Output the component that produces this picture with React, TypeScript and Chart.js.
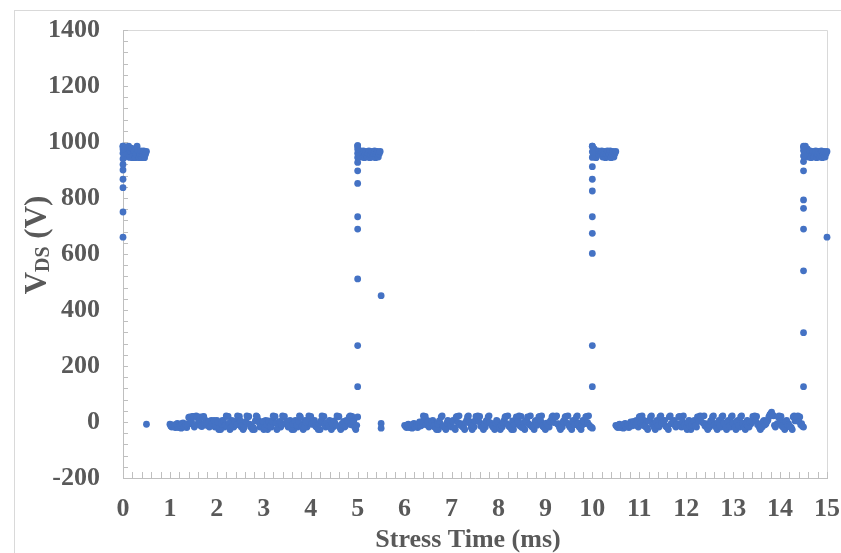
import React, { useEffect, useRef } from "react";
import { Chart, registerables } from "chart.js";
Chart.register(...registerables);

// ---------- data ----------
// Off-state (low) samples, volts. Main samples LOW_DT ms apart starting at lowNStart,
// in-between samples (lowNMid) taken half a step later.
const LOW_DT = 0.04;
const low1Start = 1.0;
const low1 = [
  -8, -18, -12, -20, -5, -15, -22, -3, -12, -20,
  16, -6, 20, -18, 22, -5, 18, -16, 20, 6,
  -6, -18, 6, -6, -18, 6, -27, -27, 6, -18,
  22, 20, -27, 6, -18, -6, 22, 20, -18, -27,
  -6, 22, 20, -18, -27, -27, 22, 6, -18, -6,
  -27, 6, -27, -6, -18, 22, 20, -27, -6, -18,
  22, 20, -6, -18, 6, -27, -27, 6, -18, 22,
  -6, -27, 6, -18, 22, 20, -6, 6, -18, -27,
  -27, 22, 20, -18, -6, 6, -27, -18, -6, 22,
  20, -27, -6, -18, 6, -6, 22, 20, 6, -27,
  18,
];
const low1Mid = [
  -15, -10, -18, -8, -20, -12, -5, -18, -10, -6,
  18, 2, 20, -12, 16, 4, -14, 18, -4, -12,
  2, -14, -4, 6, -12, -2, -20, -8, 4, -12,
  20, -4, -20, -14, 2, -10, 18, 4, -12, -20,
  2, 18, -8, -14, -20, 4, 18, -2, -12, 2,
  -20, -10, 4, -14, 2, 18, -4, -20, 2, -12,
  18, -4, 2, -14, -20, -8, 4, -12, 2, 18,
  -14, -20, -2, 4, 18, -8, 2, -14, -20, -6,
  4, 18, -10, -2, -14, -20, -6, 4, -12, 18,
  -20, -8, 2, -14, 4, 18, -10, 2, -20, -12,
];
const low2Start = 6.0;
const low2 = [
  -12, -20, -8, -18, -22, -5, -15, -20, 0, -12,
  22, 20, 6, -18, -6, 6, -18, -27, -27, -6,
  22, -18, -27, 6, -6, -18, 6, -27, 20, 22,
  -6, -18, -27, 6, 22, -6, -27, -18, 20, 22,
  20, -6, -27, -18, 6, 22, -6, -18, -27, 6,
  -6, -27, -18, 6, 20, 22, -18, -27, -27, 6,
  -6, 22, 20, -18, -27, 6, -6, 22, -18, -27,
  6, -6, 20, 22, -18, -27, -6, -18, 6, 22,
  20, 22, -6, -27, -18, 6, 20, 22, -18, -27,
  6, -6, 22, -18, -27, 6, -6, 20, 22, -18,
  -22,
];
const low2Mid = [
  -16, -10, -20, -12, -8, -18, -10, -6, -14, 2,
  18, -10, 2, -12, -4, -14, -20, -8, 4, 18,
  -14, -20, -4, 2, -12, 4, -20, 18, -2, -10,
  -14, -20, -2, 18, 2, -20, -12, 4, 18, 2,
  -14, -20, -8, 4, 18, -2, -12, -20, -4, 2,
  -20, -12, -2, 18, -6, -14, -20, 4, -10, 18,
  2, -14, -20, -2, 4, 18, -10, -14, -20, 2,
  -12, 18, 4, -14, -20, -4, -12, 2, 18, -2,
  18, -8, -20, -14, 2, 18, -4, -12, -20, 4,
  -10, 18, -4, -20, -12, 2, 18, -2, -12, -18,
];
const low3Start = 10.5;
const low3 = [
  -12, -20, -8, -18, -22, -5, -15, -20, 0, -12,
  -6, 6, -18, 20, 22, 6, -18, -27, 6, 22,
  -6, -27, 6, -18, 22, -6, 6, -18, -27, 22,
  -6, 6, -18, -6, 20, -18, 22, -6, -27, 6,
  -27, -6, 6, -18, 18, 22, 20, 22, -6, -27,
  -18, 6, 22, -6, -27, 6, -18, 22, -6, -27,
  6, -18, 22, -6, -27, 6, -18, 22, -6, -27,
  6, -18, -6, 20, 22, 20, -6, -27, -18, 6,
  -6, 6, 25, 35, 22, -18, -6, 22, 20, -18,
  -27, 6, -6, -18, -27, 22, 20, 22, 18, -6,
  -18,
];
const low3Mid = [
  -16, -10, -20, -12, -8, -18, -10, -6, -14, 2,
  -12, 2, 18, -4, -12, -14, -20, 4, 18, -10,
  -20, 2, -12, 18, -4, 2, -14, -20, 18, -6,
  2, -12, -10, 18, -14, 2, -10, -20, -2, -14,
  -10, 4, -14, 18, 2, 18, -4, -14, -20, -12,
  4, 18, -10, -20, -2, -14, 18, -4, -20, 2,
  -14, 18, -4, -20, 2, -12, 18, -4, -20, -8,
  -14, -2, 2, 18, 4, -10, -20, -14, 2, -10,
  2, 18, 30, 25, -12, -10, 18, 4, -14, -20,
  2, -10, -14, -20, 18, 4, 18, 2, -10, -16,
];

// On-state (high) plateau samples, volts, spaced HIGH_DT ms apart
const HIGH_DT = 0.02;
const high1Start = 0;
const high1 = [
  985, 944, 965, 982, 950, 975, 985, 945, 968, 978, 944, 956, 968, 944, 956, 985, 968, 944,
  956, 968, 944, 956, 968, 944, 956, 966,
];
const high2Start = 5.0;
const high2 = [
  987, 946, 958, 968, 946, 958, 968, 944, 956, 966, 946, 958, 968, 944, 956, 966, 946, 958,
  968, 944, 956, 966, 946, 958, 966,
];
const high3Start = 10.0;
const high3 = [
  985, 950, 975, 968, 944, 958, 968, 956, 966, 958, 968, 946, 956, 966, 944, 956, 968, 946,
  958, 968, 944, 956, 966, 946, 958, 966,
];
const high4Start = 14.5;
const high4 = [
  982, 946, 985, 960, 975, 946, 958, 968, 944, 956, 966, 946, 958, 968, 944, 956, 966, 946,
  958, 968, 944, 956, 966, 946, 958, 966,
];

// Switching edges: samples captured at the same time stamp
const edge1Time = 0;
const edge1 = [660, 750, 837, 867, 900, 920, 940, 960, 975, 985];
const edge2Time = 5.0;
const edge2 = [126, 273, 511, 689, 733, 852, 897, 927, 945, 960, 975, 987];
const edge3Time = 10.0;
const edge3 = [126, 273, 602, 674, 733, 825, 867, 912, 945, 965, 985];
const edge4Time = 14.5;
const edge4 = [126, 319, 540, 689, 763, 793, 897, 930, 950, 970, 985];

// Isolated samples
const extraTimes = [0.5, 5.5, 5.5, 5.5, 15.0];
const extraValues = [-8, 451, -5, -22, 660];

// Axis ticks and titles
const xTickValues = [0, 1, 2, 3, 4, 5, 6, 7, 8, 9, 10, 11, 12, 13, 14, 15];
const yTickValues = [-200, 0, 200, 400, 600, 800, 1000, 1200, 1400];
const X_MINOR = 0.2;
const Y_MINOR = 40;
const X_TITLE = "Stress Time (ms)";

// ---------- styling ----------
const BLUE = "#4472C4";
const TEXT = "#595959";
const SERIF = '"Liberation Serif", "Times New Roman", serif';

function buildPoints() {
  const pts: { x: number; y: number }[] = [];
  const addRun = (start: number, dt: number, vals: number[]) =>
    vals.forEach((v, i) => pts.push({ x: +(start + i * dt).toFixed(4), y: v }));
  const addEdge = (t: number, vals: number[]) => vals.forEach((v) => pts.push({ x: t, y: v }));
  addRun(high1Start, HIGH_DT, high1);
  addRun(high2Start, HIGH_DT, high2);
  addRun(high3Start, HIGH_DT, high3);
  addRun(high4Start, HIGH_DT, high4);
  addRun(low1Start, LOW_DT, low1);
  addRun(low1Start + LOW_DT / 2, LOW_DT, low1Mid);
  addRun(low2Start, LOW_DT, low2);
  addRun(low2Start + LOW_DT / 2, LOW_DT, low2Mid);
  addRun(low3Start, LOW_DT, low3);
  addRun(low3Start + LOW_DT / 2, LOW_DT, low3Mid);
  addEdge(edge1Time, edge1);
  addEdge(edge2Time, edge2);
  addEdge(edge3Time, edge3);
  addEdge(edge4Time, edge4);
  extraTimes.forEach((t, i) => pts.push({ x: t, y: extraValues[i] }));
  return pts;
}

const framePlugin = {
  id: "frameAndTicks",
  beforeDraw(chart: any) {
    const ctx = chart.ctx;
    ctx.save();
    ctx.fillStyle = "#ffffff";
    ctx.fillRect(0, 0, chart.width, chart.height);
    ctx.strokeStyle = "#d9d9d9";
    ctx.lineWidth = 1;
    ctx.strokeRect(14.5, 10.5, 1000, 1000);
    ctx.restore();
  },
  beforeDatasetsDraw(chart: any) {
    const { ctx, chartArea: a, scales } = chart;
    const x = scales.x;
    const y = scales.y;
    ctx.save();
    ctx.lineWidth = 1;
    ctx.strokeStyle = "#d9d9d9";
    ctx.beginPath();
    ctx.moveTo(a.left, Math.round(a.top) + 0.5);
    ctx.lineTo(Math.round(a.right) + 0.5, Math.round(a.top) + 0.5);
    ctx.lineTo(Math.round(a.right) + 0.5, a.bottom);
    ctx.stroke();
    ctx.strokeStyle = "#bfbfbf";
    ctx.beginPath();
    for (let v = -200; v <= 1400; v += Y_MINOR) {
      const py = Math.round(y.getPixelForValue(v)) + 0.5;
      ctx.moveTo(a.left, py);
      ctx.lineTo(a.left + 5, py);
    }
    for (let k = 0; k <= Math.round(15 / X_MINOR); k++) {
      const px = Math.round(x.getPixelForValue(k * X_MINOR)) + 0.5;
      ctx.moveTo(px, a.bottom);
      ctx.lineTo(px, a.bottom - 6);
    }
    ctx.stroke();
    ctx.restore();
  },
  afterDraw(chart: any) {
    const ctx = chart.ctx;
    // x-axis title
    ctx.save();
    ctx.fillStyle = TEXT;
    ctx.font = `bold 26px ${SERIF}`;
    ctx.textAlign = "center";
    ctx.textBaseline = "middle";
    ctx.fillText(X_TITLE, 468, 540);
    ctx.restore();
    // y-axis title with subscript
    ctx.save();
    ctx.translate(36, 245);
    ctx.rotate(-Math.PI / 2);
    ctx.fillStyle = TEXT;
    ctx.textBaseline = "alphabetic";
    const big = `bold 31px ${SERIF}`;
    const small = `bold 20px ${SERIF}`;
    ctx.font = big;
    const w1 = ctx.measureText("V").width;
    const w3 = ctx.measureText(" (V)").width;
    ctx.font = small;
    const w2 = ctx.measureText("DS").width;
    let x0 = -(w1 + w2 + w3) / 2;
    const base = 10;
    ctx.font = big;
    ctx.fillText("V", x0, base);
    x0 += w1;
    ctx.font = small;
    ctx.fillText("DS", x0, base + 3);
    x0 += w2;
    ctx.font = big;
    ctx.fillText(" (V)", x0, base);
    ctx.restore();
  },
};

export default function App() {
  const ref = useRef<HTMLCanvasElement | null>(null);
  useEffect(() => {
    if (!ref.current) return;
    const chart = new Chart(ref.current, {
      type: "scatter",
      data: {
        datasets: [
          {
            data: buildPoints(),
            backgroundColor: BLUE,
            borderColor: BLUE,
            borderWidth: 0,
            pointBackgroundColor: BLUE,
            pointBorderColor: BLUE,
            pointBorderWidth: 0,
            pointRadius: 3.4,
            pointHoverRadius: 3.4,
            clip: false as any,
          },
        ],
      },
      options: {
        responsive: false,
        animation: false,
        events: [],
        layout: { padding: { left: 0, top: 30, right: 14, bottom: 0 } },
        plugins: { legend: { display: false }, tooltip: { enabled: false } },
        scales: {
          x: {
            type: "linear",
            min: 0,
            max: 15,
            afterFit: (s: any) => {
              s.height = 75;
              s.paddingLeft = 0;
              s.paddingRight = 0;
              s.paddingTop = 0;
              s.paddingBottom = 0;
            },
            afterBuildTicks: (s: any) => {
              s.ticks = xTickValues.map((v) => ({ value: v }));
            },
            grid: { display: false, drawTicks: false },
            border: { display: true, color: "#bfbfbf" },
            ticks: {
              color: TEXT,
              font: { family: SERIF, size: 26, weight: "bold" },
              padding: 16,
              maxRotation: 0,
              autoSkip: false,
              callback: (v: any) => String(v),
            },
          },
          y: {
            type: "linear",
            min: -200,
            max: 1400,
            afterFit: (s: any) => {
              s.width = 123;
              s.paddingLeft = 0;
              s.paddingRight = 0;
              s.paddingTop = 0;
              s.paddingBottom = 0;
            },
            afterBuildTicks: (s: any) => {
              s.ticks = yTickValues.map((v) => ({ value: v }));
            },
            grid: { display: false, drawTicks: false },
            border: { display: true, color: "#bfbfbf" },
            ticks: {
              color: TEXT,
              font: { family: SERIF, size: 26, weight: "bold" },
              padding: 23,
              autoSkip: false,
              callback: (v: any) => String(v),
            },
          },
        },
      } as any,
      plugins: [framePlugin],
    });
    return () => chart.destroy();
  }, []);
  return (
    <div style={{ position: "absolute", left: 0, top: 0, width: 841, height: 553 }}>
      <canvas ref={ref} width={841} height={553} style={{ display: "block" }} />
    </div>
  );
}
